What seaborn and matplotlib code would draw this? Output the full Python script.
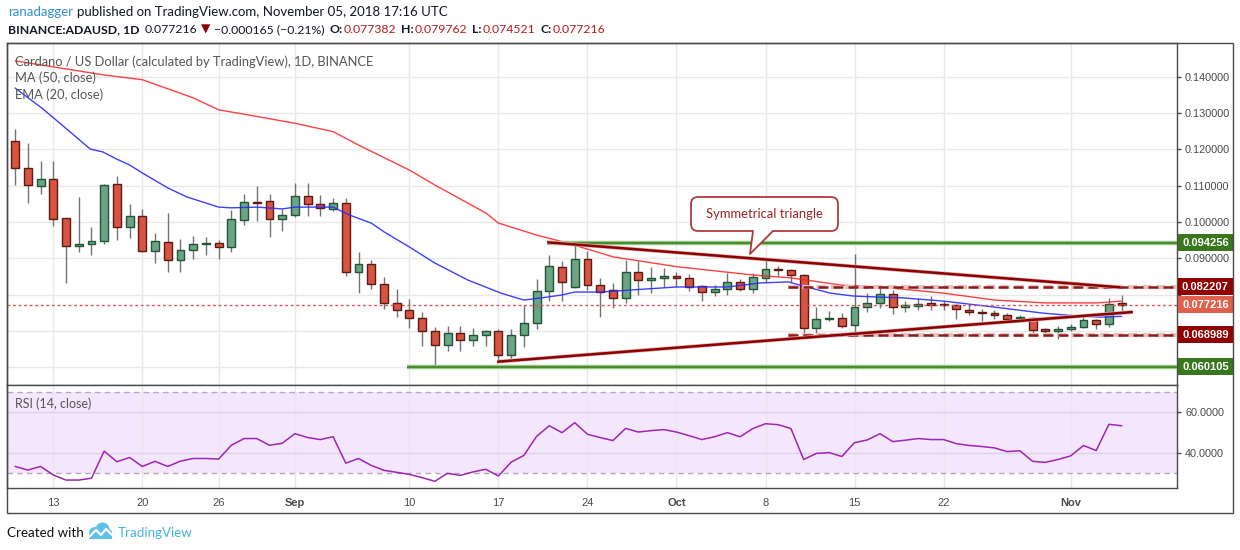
import numpy as np
import pandas as pd
import matplotlib
matplotlib.use("Agg")
import matplotlib.pyplot as plt
import seaborn as sns
from matplotlib.patches import Rectangle, FancyBboxPatch, Polygon, Circle
from matplotlib.transforms import IdentityTransform, blended_transform_factory
from matplotlib.lines import Line2D

# ---------------- data ----------------
dates = pd.date_range("2018-08-10", "2018-11-05", freq="D")
day = np.arange(len(dates))

opens = [0.1223, 0.1148, 0.1098, 0.1118, 0.1010, 0.0935, 0.0938, 0.0947, 0.1104, 0.0985,
         0.1016, 0.0919, 0.0944, 0.0894, 0.0922, 0.0938, 0.0941, 0.0930, 0.1005, 0.1054,
         0.1057, 0.1007, 0.1018, 0.1071, 0.1049, 0.1035, 0.1052, 0.0861, 0.0883, 0.0828,
         0.0776, 0.0757, 0.0735, 0.0699, 0.0660, 0.0693, 0.0674, 0.0688, 0.0699, 0.0633,
         0.0688, 0.0721, 0.0809, 0.0875, 0.0820, 0.0897, 0.0826, 0.0813, 0.0790, 0.0862,
         0.0839, 0.0845, 0.0850, 0.0845, 0.0823, 0.0806, 0.0815, 0.0834, 0.0815, 0.0845,
         0.0870, 0.0867, 0.0853, 0.0707, 0.0732, 0.0735, 0.0715, 0.0765, 0.0776, 0.0802,
         0.0765, 0.0768, 0.0776, 0.0772, 0.0771, 0.0758, 0.0752, 0.0748, 0.0745, 0.0735,
         0.0735, 0.0704, 0.0699, 0.0704, 0.0710, 0.0730, 0.0718, 0.077382]
highs = [0.1256, 0.1218, 0.1168, 0.1168, 0.1012, 0.1069, 0.0986, 0.1105, 0.1127, 0.1050,
         0.1036, 0.0970, 0.1024, 0.0953, 0.0961, 0.0959, 0.0950, 0.1033, 0.1076, 0.1099,
         0.1076, 0.1037, 0.1107, 0.1107, 0.1075, 0.1065, 0.1065, 0.0917, 0.0895, 0.0848,
         0.0815, 0.0788, 0.0751, 0.0710, 0.0713, 0.0713, 0.0707, 0.0702, 0.0704, 0.0704,
         0.0770, 0.0843, 0.0909, 0.0892, 0.0944, 0.0920, 0.0845, 0.0831, 0.0895, 0.0893,
         0.0875, 0.0872, 0.0861, 0.0857, 0.0827, 0.0827, 0.0859, 0.0842, 0.0860, 0.0897,
         0.0880, 0.0871, 0.0857, 0.0765, 0.0756, 0.0748, 0.0912, 0.0803, 0.0820, 0.0813,
         0.0783, 0.0791, 0.0797, 0.0782, 0.0774, 0.0774, 0.0759, 0.0758, 0.0748, 0.0744,
         0.0737, 0.0708, 0.0714, 0.0719, 0.0741, 0.0734, 0.0790, 0.079762]
lows = [0.1102, 0.1053, 0.1078, 0.0990, 0.0833, 0.0916, 0.0910, 0.0940, 0.0951, 0.0957,
        0.0916, 0.0888, 0.0863, 0.0863, 0.0899, 0.0910, 0.0899, 0.0918, 0.0993, 0.1004,
        0.0960, 0.0976, 0.1015, 0.1017, 0.1017, 0.1030, 0.0852, 0.0805, 0.0816, 0.0759,
        0.0739, 0.0709, 0.0657, 0.0600, 0.0645, 0.0645, 0.0657, 0.0657, 0.0614, 0.0618,
        0.0655, 0.0706, 0.0783, 0.0781, 0.0819, 0.0814, 0.0737, 0.0762, 0.0778, 0.0800,
        0.0805, 0.0820, 0.0820, 0.0811, 0.0781, 0.0797, 0.0799, 0.0809, 0.0804, 0.0836,
        0.0852, 0.0836, 0.0693, 0.0693, 0.0727, 0.0707, 0.0693, 0.0751, 0.0762, 0.0746,
        0.0751, 0.0758, 0.0758, 0.0758, 0.0734, 0.0743, 0.0728, 0.0732, 0.0725, 0.0725,
        0.0689, 0.0691, 0.0678, 0.0699, 0.0709, 0.0704, 0.0710, 0.074521]
closes = [0.1148, 0.1101, 0.1118, 0.1007, 0.0935, 0.0936, 0.0947, 0.1101, 0.0985, 0.1016,
          0.0919, 0.0947, 0.0894, 0.0922, 0.0938, 0.0940, 0.0930, 0.1007, 0.1054, 0.1052,
          0.1007, 0.1018, 0.1071, 0.1049, 0.1038, 0.1052, 0.0861, 0.0883, 0.0828, 0.0776,
          0.0757, 0.0735, 0.0699, 0.0660, 0.0693, 0.0674, 0.0688, 0.0699, 0.0633, 0.0688,
          0.0721, 0.0809, 0.0878, 0.0834, 0.0897, 0.0826, 0.0808, 0.0790, 0.0862, 0.0839,
          0.0845, 0.0850, 0.0845, 0.0820, 0.0806, 0.0815, 0.0834, 0.0815, 0.0848, 0.0870,
          0.0868, 0.0853, 0.0707, 0.0732, 0.0734, 0.0713, 0.0765, 0.0776, 0.0802, 0.0765,
          0.0771, 0.0773, 0.0771, 0.0771, 0.0759, 0.0751, 0.0748, 0.0745, 0.0734, 0.0737,
          0.0703, 0.0700, 0.0705, 0.0710, 0.0730, 0.0718, 0.0773, 0.077216]

ma50_day = [0, 7, 10, 14, 16, 18, 22, 25, 27, 31, 33, 37, 38, 41, 43, 46, 47, 52, 58,
            61, 63, 65, 68, 73, 77, 81, 85, 87]
ma50_val = [0.1444, 0.1405, 0.1392, 0.1342, 0.1309, 0.1297, 0.1272, 0.1249, 0.1212, 0.1143,
            0.1102, 0.1025, 0.0997, 0.0964, 0.0946, 0.0915, 0.0904, 0.0877, 0.0854, 0.0846,
            0.0836, 0.0826, 0.0821, 0.0804, 0.0785, 0.0777, 0.0777, 0.0782]

ema20_day = [0, 2.2, 4.9, 5.9, 6.9, 8, 9, 10, 12, 13.5, 16, 17, 19, 21, 22, 25, 26.3, 28,
             29, 31, 33, 35.6, 38.2, 40, 41.4, 43, 44, 46, 52, 56, 58.6, 60.8, 61.7, 64.1,
             65.9, 68, 69.8, 73, 76.9, 80.8, 83.5, 85.3, 87]
ema20_val = [0.1369, 0.1311, 0.1231, 0.1201, 0.1193, 0.1173, 0.1157, 0.1135, 0.1094, 0.1069,
             0.1041, 0.1039, 0.1041, 0.1036, 0.1041, 0.1041, 0.1019, 0.0997, 0.0973, 0.0931,
             0.0887, 0.0840, 0.0804, 0.0785, 0.0791, 0.0799, 0.0807, 0.0807, 0.0821, 0.0821,
             0.0832, 0.0835, 0.0826, 0.0804, 0.0796, 0.0793, 0.0791, 0.0782, 0.0766, 0.0749,
             0.0741, 0.0738, 0.0740]

rsi14 = [33.4, 31.6, 33.4, 29.2, 26.7, 26.7, 27.6, 40.9, 35.7, 37.8,
         33.4, 35.9, 33.4, 36.0, 37.3, 37.3, 37.0, 43.8, 47.1, 47.1,
         43.8, 44.8, 49.5, 47.6, 46.6, 48.0, 35.0, 37.3, 33.9, 31.5,
         30.5, 29.5, 27.9, 26.1, 30.0, 29.0, 30.7, 32.0, 28.7, 35.5,
         38.8, 48.2, 53.4, 50.0, 54.9, 49.2, 47.6, 46.1, 52.1, 50.3,
         51.0, 51.5, 50.3, 48.5, 46.6, 48.0, 50.0, 48.0, 52.0, 54.4,
         53.9, 52.0, 36.8, 39.8, 40.2, 38.3, 45.1, 46.4, 49.5, 45.6,
         46.3, 47.1, 46.6, 46.6, 44.6, 43.7, 43.2, 42.5, 40.7, 41.1,
         35.9, 35.4, 36.8, 38.6, 43.7, 41.2, 54.1, 53.4]

tick_days = [3, 10, 16, 22, 31, 38, 45, 52, 59, 66, 73, 83]
tick_labels = ["13", "20", "26", "Sep", "10", "17", "24", "Oct", "8", "15", "22", "Nov"]
price_ticks = [0.06, 0.07, 0.08, 0.09, 0.10, 0.11, 0.12, 0.13, 0.14]

resist_level, resist_start = 0.094256, 41.84
support_level, support_start = 0.060105, 30.84
tri_hi_level, tri_lo_level, tri_box_start = 0.082207, 0.068989, 60.8
last_price = 0.077216
upper_line_x, upper_line_y = [41.84, 86.88], [0.0944, 0.0820]
lower_line_x, lower_line_y = [37.9, 87.88], [0.0615, 0.0752]

# ---------------- figure ----------------
W, H = 1240, 550
sns.set_theme(style="white")
plt.rcParams["font.family"] = ["Lato", "DejaVu Sans"]
AXFONT = ["Liberation Sans", "DejaVu Sans"]

fig = plt.figure(figsize=(W / 100, H / 100), dpi=100)
fig.patch.set_facecolor("white")


def frac(x0, y0, x1, y1):
    return [x0 / W, 1 - y1 / H, (x1 - x0) / W, (y1 - y0) / H]


ax = fig.add_axes(frac(7, 43, 1176.7, 385.3))
axr = fig.add_axes(frac(7, 385.3, 1176.7, 488))

XMIN, XMAX = -0.64, 91.33
GRID = "#e8e8e8"
EDGE = "#4a4a4a"

# ---- main pane ----
ax.set_xlim(XMIN, XMAX)
ax.set_ylim(0.05501, 0.14931)
ax.set_axisbelow(True)
ax.set_xticks(tick_days)
ax.set_yticks(price_ticks)
ax.grid(True, color=GRID, lw=1)
ax.tick_params(axis="x", length=0, labelbottom=False)
ax.yaxis.tick_right()
ax.set_yticklabels(["" if v < 0.085 else f"{v:.6f}" for v in price_ticks])
ax.tick_params(axis="y", length=3, width=1, color=EDGE, labelsize=7.8,
               labelcolor="#4a4a4a", pad=3)
for lab in ax.get_yticklabels():
    lab.set_family(AXFONT)
for s in ax.spines.values():
    s.set_color(EDGE)
    s.set_linewidth(1)

df = pd.DataFrame({"day": day, "open": opens, "high": highs, "low": lows, "close": closes})
up = df["close"] >= df["open"]
body_lo = df[["open", "close"]].min(axis=1)
body_h = (df["close"] - df["open"]).abs().clip(lower=0.00035)

ax.vlines(df["day"], df["low"], df["high"], color="#737375", lw=1, zorder=3)
ax.bar(df["day"][up], body_h[up], bottom=body_lo[up], width=0.62,
       color="#6ba583", edgecolor="#225437", lw=1, zorder=4)
ax.bar(df["day"][~up], body_h[~up], bottom=body_lo[~up], width=0.62,
       color="#d75442", edgecolor="#5b1a13", lw=1, zorder=4)

ma_df = pd.DataFrame({"day": ma50_day, "v": ma50_val})
ema_df = pd.DataFrame({"day": ema20_day, "v": ema20_val})
sns.lineplot(data=ma_df, x="day", y="v", ax=ax, color="#ff2020", lw=1.0,
             sort=False, estimator=None, zorder=5, alpha=0.85)
sns.lineplot(data=ema_df, x="day", y="v", ax=ax, color="#2a2aff", lw=1.0,
             sort=False, estimator=None, zorder=5, alpha=0.9)
ax.set_xlabel("")
ax.set_ylabel("")

# last price dotted line
ax.axhline(last_price, color="#d9534f", lw=1, ls=(0, (2, 2)), zorder=5)

# horizontal support / resistance (green)
for lvl, start in [(resist_level, resist_start), (support_level, support_start)]:
    ax.plot([start, XMAX], [lvl, lvl], color="#9cc98a", lw=3.2, zorder=6,
            solid_capstyle="butt")
    ax.plot([start, XMAX], [lvl, lvl], color="#4c8a2e", lw=1.5, zorder=6,
            solid_capstyle="butt")

# dashed triangle box levels
for lvl in [tri_hi_level, tri_lo_level]:
    ax.plot([tri_box_start, XMAX], [lvl, lvl], color="#e8c0c0", lw=3.0,
            ls=(0, (2.2, 1.2)), zorder=6)
    ax.plot([tri_box_start, XMAX], [lvl, lvl], color="#8e1b1b", lw=1.8,
            ls=(0, (4, 2)), zorder=6)

# triangle trend lines
for xs, ys in [(upper_line_x, upper_line_y), (lower_line_x, lower_line_y)]:
    ax.plot(xs, ys, color="#dfb0b0", lw=2.8, zorder=7, solid_capstyle="butt")
    ax.plot(xs, ys, color="#8b0000", lw=1.8, zorder=7, solid_capstyle="butt")

# right-side price labels
bt = blended_transform_factory(ax.transAxes, ax.transData)
hh = 17 / 3630
for lvl, col in [(resist_level, "#3a761d"), (tri_hi_level, "#900000"),
                 (last_price, "#e0604e"), (tri_lo_level, "#900000"),
                 (support_level, "#3a761d")]:
    ax.add_patch(Rectangle((1.0007, lvl - hh / 2), 0.0475, hh, transform=bt,
                           facecolor=col, edgecolor="none", clip_on=False, zorder=10))
    ax.text(1.0245, lvl, f"{lvl:.6f}", transform=bt, ha="center", va="center",
            color="white", fontsize=8, fontweight="bold", family=AXFONT,
            clip_on=False, zorder=11)

# ---- RSI pane ----
axr.set_xlim(XMIN, XMAX)
axr.set_ylim(22.8, 73.27)
axr.set_axisbelow(True)
axr.axhspan(30, 70, color="#f3e6fd", zorder=0.2, lw=0)
axr.set_xticks(tick_days)
axr.set_xticklabels(tick_labels)
axr.set_yticks([40, 60])
axr.set_yticklabels(["40.0000", "60.0000"])
axr.grid(True, axis="x", color=GRID, lw=1)
for lvl in [40, 60]:
    axr.axhline(lvl, color="#ddd0e8", lw=1, zorder=0.6)
for lvl in [30, 70]:
    axr.axhline(lvl, color="#b5a7bd", lw=1, ls=(0, (4, 3)), zorder=0.7)
axr.yaxis.tick_right()
axr.tick_params(axis="y", length=3, width=1, color=EDGE, labelsize=7.8,
                labelcolor="#4a4a4a", pad=3)
axr.tick_params(axis="x", length=3, width=1, color=EDGE, labelsize=8,
                labelcolor="#4a4a4a", pad=4)
for lab in axr.get_xticklabels() + axr.get_yticklabels():
    lab.set_family(AXFONT)
for lab in axr.get_xticklabels():
    if lab.get_text() in ("Sep", "Oct", "Nov"):
        lab.set_fontweight("bold")
for s in axr.spines.values():
    s.set_color(EDGE)
    s.set_linewidth(1)
rsi_df = pd.DataFrame({"day": day, "rsi": rsi14})
sns.lineplot(data=rsi_df, x="day", y="rsi", ax=axr, color="#9c27b0", lw=1.1,
             estimator=None, zorder=3)
axr.set_xlabel("")
axr.set_ylabel("")

# ---- outer frame ----
fig.add_artist(Rectangle((7, H - 513), 1226, 470, transform=IdentityTransform(),
                         fill=False, edgecolor=EDGE, lw=1))


# ---- texts ----
def ftext(x, y, s, **kw):
    return fig.text(x / W, 1 - y / H, s, **kw)


def seq(pieces, x, y, size):
    r = fig.canvas.get_renderer()
    for s, color, weight, gap in pieces:
        t = ftext(x, y, s, color=color, fontweight=weight, fontsize=size,
                  va="baseline", ha="left")
        x = t.get_window_extent(r).x1 + gap


DARK = "#131722"
RED = "#b71c1c"
seq([("ranadagger", "#2e8fd0", "normal", 4),
     ("published on TradingView.com, November 05, 2018 17:16 UTC", DARK, "normal", 0)],
    8, 16, 9.5)
seq([("BINANCE:ADAUSD, 1D", DARK, "bold", 5),
     ("0.077216", DARK, "normal", 4),
     ("\u25BC", "#8b0000", "normal", 3),
     ("\u22120.000165 (\u22120.21%)", DARK, "normal", 5),
     ("O:", DARK, "bold", 1), ("0.077382", RED, "normal", 5),
     ("H:", DARK, "bold", 1), ("0.079762", RED, "normal", 5),
     ("L:", DARK, "bold", 1), ("0.074521", RED, "normal", 5),
     ("C:", DARK, "bold", 1), ("0.077216", RED, "normal", 0)],
    8, 33, 8.8)

LEG = "#555555"
ftext(15, 65.5, "Cardano / US Dollar (calculated by TradingView), 1D, BINANCE",
      color=LEG, fontsize=9.3, va="baseline")
ftext(15, 82, "MA (50, close)", color=LEG, fontsize=9.3, va="baseline")
ftext(15, 99, "EMA (20, close)", color=LEG, fontsize=9.3, va="baseline")
ftext(15, 407.5, "RSI (14, close)", color=LEG, fontsize=9, va="baseline")

# callout
fig.add_artist(FancyBboxPatch((691, H - 231), 147, 34,
                              boxstyle="round,pad=0,rounding_size=7",
                              transform=IdentityTransform(), facecolor="white",
                              edgecolor="#b03a3a", lw=1.3, zorder=20))
fig.add_artist(Polygon([(753, H - 230), (750, H - 254), (773, H - 230)], closed=True,
                       transform=IdentityTransform(), facecolor="white",
                       edgecolor="none", zorder=21))
fig.add_artist(Line2D([753, 750, 773], [H - 231, H - 254, H - 231],
                      transform=IdentityTransform(), color="#b03a3a", lw=1.3,
                      zorder=22))
ftext(764.5, 214, "Symmetrical triangle", color="#9c2424", fontsize=9.4,
      ha="center", va="center", zorder=23)

# footer
ftext(7, 537, "Created with", color="#111111", fontsize=9.6, va="baseline")
for cx, cy, rr in [(95, 533, 6), (102.5, 529.5, 7), (107.5, 533.5, 4.8)]:
    fig.add_artist(Circle((cx, H - cy), rr, transform=IdentityTransform(),
                          facecolor="#5fc0ea", edgecolor="none"))
fig.add_artist(Rectangle((89, H - 538.5), 23, 5.5, transform=IdentityTransform(),
                         facecolor="#5fc0ea", edgecolor="none"))
fig.add_artist(Line2D([89, 96, 101, 106, 112], [H - 537, H - 530, H - 535, H - 529, H - 535],
                      transform=IdentityTransform(), color="white", lw=1.6))
ftext(118, 537, "TradingView", color="#45b3e0", fontsize=9.6, va="baseline")

fig.savefig("out.png", dpi=100, facecolor="white")
